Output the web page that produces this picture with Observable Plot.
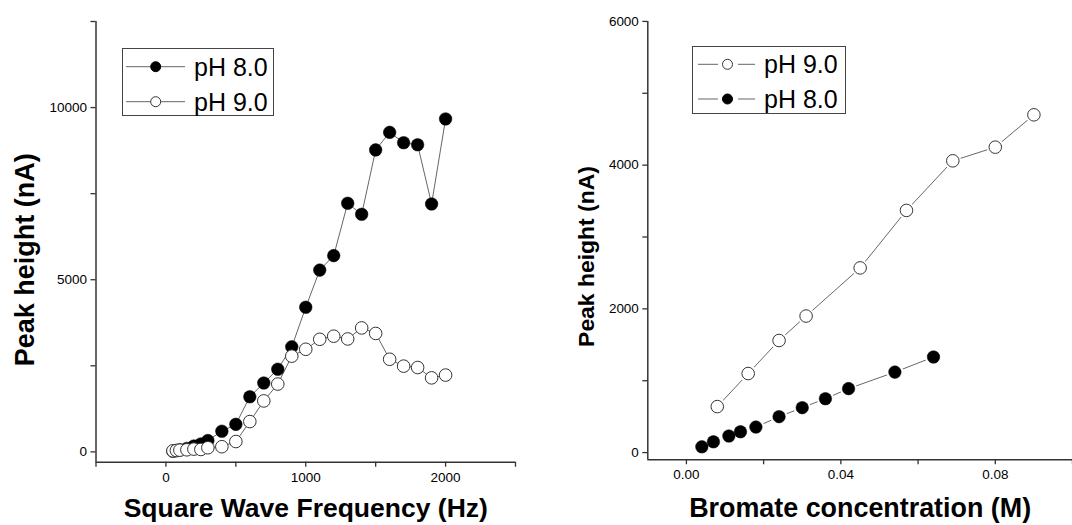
<!DOCTYPE html>
<html>
<head>
<meta charset="utf-8">
<script src="https://cdn.jsdelivr.net/npm/d3@7"></script>
<script src="https://cdn.jsdelivr.net/npm/@observablehq/plot@0.6"></script>
<style>
  body { margin: 0; background: #fff; }
  #wrap { position: relative; width: 1072px; height: 525px; overflow: hidden; background: #fff; font-family: "Liberation Sans", Arial, sans-serif; }
  #left, #right, .legend { position: absolute; }
  #left { left: 0; top: 0; }
  #right { left: 540px; top: 0; }
</style>
</head>
<body>
<div id="wrap">
  <div id="left"></div>
  <div id="right"></div>
</div>
<script>
// ---------- Left panel data: Peak height vs square wave frequency ----------
const freq = [50, 75, 100, 150, 200, 250, 300, 400, 500, 600, 700, 800, 900, 1000, 1100, 1200, 1300, 1400, 1500, 1600, 1700, 1800, 1900, 2000];
const peakFreqPH8 = [20, 35, 60, 100, 170, 230, 330, 600, 800, 1600, 2000, 2400, 3050, 4200, 5280, 5700, 7220, 6900, 8770, 9280, 8980, 8920, 7200, 9670];
const peakFreqPH9 = [30, 40, 50, 60, 80, 70, 120, 150, 300, 880, 1480, 1970, 2780, 2980, 3270, 3360, 3280, 3600, 3440, 2690, 2490, 2450, 2150, 2230];

// ---------- Right panel data: Peak height vs bromate concentration ----------
const concPH9 = [0.008, 0.016, 0.024, 0.031, 0.045, 0.057, 0.069, 0.080, 0.090];
const peakConcPH9 = [640, 1100, 1560, 1900, 2570, 3370, 4060, 4250, 4700];
const concPH8 = [0.004, 0.007, 0.011, 0.014, 0.018, 0.024, 0.030, 0.036, 0.042, 0.054, 0.064];
const peakConcPH8 = [80, 150, 230, 290, 355, 500, 625, 750, 890, 1120, 1330];

// ---------- Axes ----------
const leftXDomain = [-500, 2500];
const leftYDomain = [-300, 12500];
const leftXTicks = [-500, 0, 500, 1000, 1500, 2000, 2500];
const leftXLabels = [0, 1000, 2000];
const leftYTicks = [0, 2500, 5000, 7500, 10000, 12500];
const leftYLabels = [0, 5000, 10000];

const rightXDomain = [-0.01, 0.1];
const rightYDomain = [-100, 6000];
const rightXTicks = [0, 0.02, 0.04, 0.06, 0.08, 0.10];
const rightXLabels = [0, 0.04, 0.08];
const rightYTicks = [0, 1000, 2000, 3000, 4000, 5000, 6000];
const rightYLabels = [0, 2000, 4000, 6000];

const leftXTitle = "Square Wave Frequency (Hz)";
const rightXTitle = "Bromate concentration (M)";
const yTitle = "Peak height (nA)";
const labelPH8 = "pH 8.0";
const labelPH9 = "pH 9.0";

const leftPH8 = freq.map((x, i) => ({x, y: peakFreqPH8[i]}));
const leftPH9 = freq.map((x, i) => ({x, y: peakFreqPH9[i]}));
const rightPH9 = concPH9.map((x, i) => ({x, y: peakConcPH9[i]}));
const rightPH8 = concPH8.map((x, i) => ({x, y: peakConcPH8[i]}));

const FONT = "Liberation Sans, Arial, sans-serif";
const AXIS = "#333";
const LINE = "#666";

function near(list, d) { return list.some(v => Math.abs(v - d) < 1e-9); }

const left = Plot.plot({
  width: 540, height: 525,
  marginLeft: 95.5, marginRight: 25, marginTop: 21, marginBottom: 63.3,
  x: {domain: leftXDomain},
  y: {domain: leftYDomain},
  style: {fontFamily: FONT, background: "transparent", color: "#000", overflow: "visible"},
  marks: [
    Plot.ruleX([leftXDomain[0]], {stroke: AXIS, strokeWidth: 1.5}),
    Plot.ruleY([leftYDomain[0]], {stroke: AXIS, strokeWidth: 1.5}),
    Plot.axisX({ticks: leftXTicks, tickSize: 5, tickPadding: 5, fontSize: 13.5, stroke: AXIS, strokeWidth: 1.3, label: null,
      tickFormat: d => near(leftXLabels, d) ? String(d) : ""}),
    Plot.axisY({ticks: leftYTicks, tickSize: 5, tickPadding: 4, fontSize: 13.5, stroke: AXIS, strokeWidth: 1.3, label: null,
      tickFormat: d => near(leftYLabels, d) ? String(d) : ""}),
    Plot.line(leftPH8, {x: "x", y: "y", stroke: LINE, strokeWidth: 1}),
    Plot.line(leftPH9, {x: "x", y: "y", stroke: LINE, strokeWidth: 1}),
    Plot.dot(leftPH8, {x: "x", y: "y", r: 6.3, fill: "#000", stroke: "#000", strokeWidth: 0.5}),
    Plot.dot(leftPH9, {x: "x", y: "y", r: 6.3, fill: "#fff", stroke: "#333", strokeWidth: 1}),
    Plot.text([leftXTitle], {text: d => d, frameAnchor: "bottom", lineAnchor: "middle", textAnchor: "middle", dy: 46, fontSize: 26.5, fontWeight: "bold", fill: "#000"}),
    Plot.text([yTitle], {text: d => d, frameAnchor: "left", lineAnchor: "middle", textAnchor: "middle", dx: -70.5, dy: 18, rotate: -90, fontSize: 27, fontWeight: "bold", fill: "#000"})
  ]
});
document.getElementById("left").appendChild(left);

const right = Plot.plot({
  width: 534, height: 525,
  marginLeft: 107.7, marginRight: 0, marginTop: 21, marginBottom: 64,
  x: {domain: rightXDomain},
  y: {domain: rightYDomain},
  style: {fontFamily: FONT, background: "transparent", color: "#000"},
  marks: [
    Plot.ruleX([rightXDomain[0]], {stroke: AXIS, strokeWidth: 1.5}),
    Plot.ruleY([rightYDomain[0]], {stroke: AXIS, strokeWidth: 1.5}),
    Plot.axisX({ticks: rightXTicks, tickSize: 5, tickPadding: 5, fontSize: 13.5, stroke: AXIS, strokeWidth: 1.3, label: null,
      tickFormat: d => near(rightXLabels, d) ? d3.format(".2f")(d) : ""}),
    Plot.axisY({ticks: rightYTicks, tickSize: 5, tickPadding: 4, fontSize: 13.5, stroke: AXIS, strokeWidth: 1.3, label: null,
      tickFormat: d => near(rightYLabels, d) ? String(d) : ""}),
    Plot.line(rightPH9, {x: "x", y: "y", stroke: LINE, strokeWidth: 1}),
    Plot.line(rightPH8, {x: "x", y: "y", stroke: LINE, strokeWidth: 1}),
    Plot.dot(rightPH9, {x: "x", y: "y", r: 8.5, fill: "#fff", stroke: "none"}),
    Plot.dot(rightPH8, {x: "x", y: "y", r: 8.5, fill: "#fff", stroke: "none"}),
    Plot.dot(rightPH9, {x: "x", y: "y", r: 6.3, fill: "#fff", stroke: "#333", strokeWidth: 1}),
    Plot.dot(rightPH8, {x: "x", y: "y", r: 6.3, fill: "#000", stroke: "#000", strokeWidth: 0.5}),
    Plot.text([rightXTitle], {text: d => d, frameAnchor: "bottom", lineAnchor: "middle", textAnchor: "middle", dy: 49, fontSize: 27, fontWeight: "bold", fill: "#000"}),
    Plot.text([yTitle], {text: d => d, frameAnchor: "left", lineAnchor: "middle", textAnchor: "middle", dx: -61, dy: 16, rotate: -90, fontSize: 23, fontWeight: "bold", fill: "#000"})
  ]
});
document.getElementById("right").appendChild(right);

// ---------- Legends ----------
const NS = "http://www.w3.org/2000/svg";
function el(tag, attrs, parent) {
  const e = document.createElementNS(NS, tag);
  for (const k in attrs) e.setAttribute(k, attrs[k]);
  parent.appendChild(e);
  return e;
}
function legend(box, rows, gapped) {
  const svg = el("svg", {width: box.w, height: box.h}, document.getElementById("wrap"));
  svg.setAttribute("class", "legend");
  svg.style.left = box.x + "px";
  svg.style.top = box.y + "px";
  el("rect", {x: 0.5, y: 0.5, width: box.w - 1, height: box.h - 1, fill: "#fff", stroke: "#444", "stroke-width": 1}, svg);
  rows.forEach(r => {
    if (gapped) {
      el("line", {x1: 6, x2: 26, y1: r.cy, y2: r.cy, stroke: LINE, "stroke-width": 1}, svg);
      el("line", {x1: 46, x2: 63, y1: r.cy, y2: r.cy, stroke: LINE, "stroke-width": 1}, svg);
    } else {
      el("line", {x1: 4, x2: 63, y1: r.cy, y2: r.cy, stroke: LINE, "stroke-width": 1}, svg);
    }
    el("circle", {cx: box.mx, cy: r.cy, r: 5, fill: r.filled ? "#000" : "#fff", stroke: r.filled ? "#000" : "#333", "stroke-width": 1}, svg);
    const t = el("text", {x: 72, y: r.cy, "dominant-baseline": "central", "font-size": 25, "font-family": FONT, fill: "#000"}, svg);
    t.textContent = r.label;
  });
}
legend({x: 122, y: 48, w: 152, h: 68, mx: 33.7}, [
  {cy: 18.7, label: labelPH8, filled: true},
  {cy: 53.7, label: labelPH9, filled: false}
], false);
legend({x: 692, y: 46, w: 154, h: 68, mx: 35.5}, [
  {cy: 18.3, label: labelPH9, filled: false},
  {cy: 53, label: labelPH8, filled: true}
], true);
</script>
</body>
</html>
